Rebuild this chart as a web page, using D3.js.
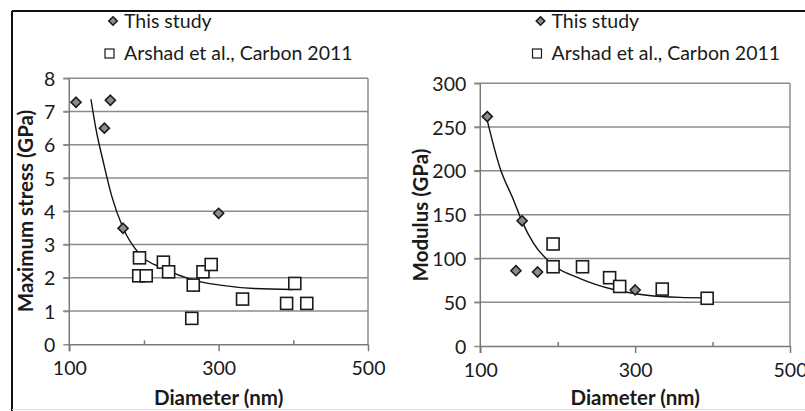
<!DOCTYPE html>
<html lang='en'>
<head>
  <meta charset='UTF-8'>
  <title>Maximum stress and modulus vs diameter</title>
  <style>
  body {
    margin: 0;
    background: #fff;
  }
  text {
    font-family: Lato, 'Open Sans', sans-serif;
    fill: #1a1a1a;
  }
  .tick-label {
    font-size: 19.5px;
  }
  .legend-label {
    font-size: 19.5px;
  }
  .title {
    font-size: 20.5px;
    font-weight: bold;
  }
  .grid {
    stroke: #8c8c8c;
    stroke-width: 1.5;
  }
  .study {
    fill: #8c8c8c;
    stroke: #1a1a1a;
    stroke-width: 1.6;
  }
  .arshad {
    fill: #fff;
    stroke: #1a1a1a;
    stroke-width: 1.6;
  }
  .fit {
    fill: none;
    stroke: #111;
    stroke-width: 1.4;
  }
  </style>
  <script src='https://d3js.org/d3.v7.min.js'></script>
</head>
<body>
  <script>

  // values: [diameter (nm), value]

  var stressStudy = [[109, 7.28], [147, 6.5], [155, 7.34], [172, 3.49], [300, 3.94]];
  var stressArshad = [[194, 2.6], [193, 2.06], [203, 2.06], [226, 2.47], [233, 2.18], [266, 1.78],
    [264, 0.78], [279, 2.18], [290, 2.4], [332, 1.36], [391, 1.23], [402, 1.83], [418, 1.23]];
  var stressFit = [[129, 7.37], [136, 6.44], [146, 5.44], [157, 4.44], [172, 3.5], [195, 2.69],
    [226, 2.28], [266, 1.93], [302, 1.78], [347, 1.68], [400, 1.65]];

  var modStudy = [[109, 262], [154, 143], [146, 86], [174, 84.5], [300, 64]];
  var modArshad = [[194, 116.5], [194, 90.5], [232, 90.5], [267, 78], [280, 68], [335, 65], [393, 54.5]];
  var modFit = [[108, 261], [125, 204.5], [143, 166.5], [154, 142], [169, 117], [192, 94],
    [229, 77], [272, 64.5], [315, 58], [358, 55.5], [392, 55]];

  var xTicks = [100, 300, 500];
  var xMinorTicks = [200, 400];
  var stressTicks = [0, 1, 2, 3, 4, 5, 6, 7, 8];
  var modTicks = [0, 50, 100, 150, 200, 250, 300];

  var legendLabels = ['This study', 'Arshad et al., Carbon 2011'];

  var svg = d3.select('body').append('svg')
    .attr('width', 805)
    .attr('height', 411);

  // outer frame

  svg.append('line').attr('x1', 12).attr('x2', 805).attr('y1', 11).attr('y2', 11)
    .attr('stroke', '#111').attr('stroke-width', 2);
  svg.append('line').attr('x1', 12).attr('x2', 12).attr('y1', 11).attr('y2', 411)
    .attr('stroke', '#111').attr('stroke-width', 2);
  svg.append('line').attr('x1', 12).attr('x2', 805).attr('y1', 409.5).attr('y2', 409.5)
    .attr('stroke', '#ddd').attr('stroke-width', 1);

  var diamond = d3.symbol().type(d3.symbolDiamond2);

  function drawPanel(p) {
    var x = d3.scaleLinear().domain([100, 500]).range([p.left, p.right]);
    var y = d3.scaleLinear().domain([0, p.yMax]).range([p.bottom, p.top]);
    var g = svg.append('g');

    // gridlines

    g.selectAll('.grid')
      .data(p.yTicks.slice(1))
      .enter()
      .append('line')
      .attr('class', 'grid')
      .attr('x1', p.left - 6)
      .attr('x2', p.right)
      .attr('y1', function (d) { return y(d); })
      .attr('y2', function (d) { return y(d); });

    // plot area right border

    g.append('line')
      .attr('x1', p.right).attr('x2', p.right)
      .attr('y1', p.top).attr('y2', p.bottom)
      .attr('stroke', '#8c8c8c').attr('stroke-width', 1.5);

    // axes

    var yAxis = g.append('g')
      .attr('transform', 'translate(' + p.left + ',0)')
      .call(d3.axisLeft(y).tickValues(p.yTicks).tickSize(6).tickPadding(8));

    g.append('g')
      .attr('transform', 'translate(0,' + p.bottom + ')')
      .call(d3.axisBottom(x).tickValues(xTicks).tickSize(7).tickPadding(10).tickSizeOuter(0));

    g.append('g')
      .attr('transform', 'translate(0,' + p.bottom + ')')
      .call(d3.axisBottom(x).tickValues(xMinorTicks).tickSize(-4).tickFormat('').tickSizeOuter(0))
      .select('.domain').remove();

    g.selectAll('.domain, .tick line')
      .attr('stroke', '#7a7a7a')
      .attr('stroke-width', 1.5);

    yAxis.selectAll('.tick line').attr('stroke', '#8c8c8c');
    yAxis.select('.domain').remove();
    g.append('line')
      .attr('x1', p.left).attr('x2', p.left)
      .attr('y1', p.top).attr('y2', p.bottom + 7)
      .attr('stroke', '#7a7a7a').attr('stroke-width', 1.5);

    g.selectAll('.tick text')
      .attr('class', 'tick-label')
      .attr('font-family', null)
      .attr('font-size', null);
    yAxis.selectAll('.tick text').attr('dy', '0.36em');

    // axis titles

    g.append('text')
      .attr('class', 'title')
      .attr('text-anchor', 'middle')
      .attr('x', (p.left + p.right) / 2)
      .attr('y', 405)
      .text('Diameter (nm)');

    g.append('text')
      .attr('class', 'title')
      .attr('text-anchor', 'middle')
      .attr('transform', 'translate(' + p.titleX + ',' + p.titleY + ') rotate(-90)')
      .text(p.yTitle);

    // fitted curve

    var line = d3.line()
      .x(function (d) { return x(d[0]); })
      .y(function (d) { return y(d[1]); })
      .curve(d3.curveMonotoneX);

    g.append('path')
      .datum(p.fit)
      .attr('class', 'fit')
      .attr('d', line);

    // markers

    g.selectAll('.arshad')
      .data(p.arshad)
      .enter()
      .append('rect')
      .attr('class', 'arshad')
      .attr('x', function (d) { return x(d[0]) - 6; })
      .attr('y', function (d) { return y(d[1]) - 6; })
      .attr('width', 12)
      .attr('height', 12);

    g.selectAll('.study')
      .data(p.study)
      .enter()
      .append('path')
      .attr('class', 'study')
      .attr('transform', function (d) { return 'translate(' + x(d[0]) + ',' + y(d[1]) + ')'; })
      .attr('d', diamond.size(64));

    // legend

    g.append('path')
      .attr('class', 'study')
      .attr('transform', 'translate(' + (p.legendX - 11) + ',21)')
      .attr('d', diamond.size(45));

    g.append('rect')
      .attr('x', p.legendX - 19)
      .attr('y', 49)
      .attr('width', 9)
      .attr('height', 9)
      .attr('fill', '#fff')
      .attr('stroke', '#1a1a1a')
      .attr('stroke-width', 1.2);

    g.selectAll('.legend-label')
      .data(legendLabels)
      .enter()
      .append('text')
      .attr('class', 'legend-label')
      .attr('x', p.legendX)
      .attr('y', function (d, i) { return 28 + i * 32; })
      .text(function (d) { return d; });
  }

  drawPanel({
    left: 69.3, right: 368, top: 78.3, bottom: 344.3,
    yMax: 8, yTicks: stressTicks,
    study: stressStudy, arshad: stressArshad, fit: stressFit,
    yTitle: 'Maximum stress (GPa)', titleX: 33, titleY: 211,
    legendX: 124
  });

  drawPanel({
    left: 480.3, right: 790, top: 83.3, bottom: 346,
    yMax: 300, yTicks: modTicks,
    study: modStudy, arshad: modArshad, fit: modFit,
    yTitle: 'Modulus (GPa)', titleX: 428, titleY: 215,
    legendX: 551.5
  });
  </script>
</body>
</html>
